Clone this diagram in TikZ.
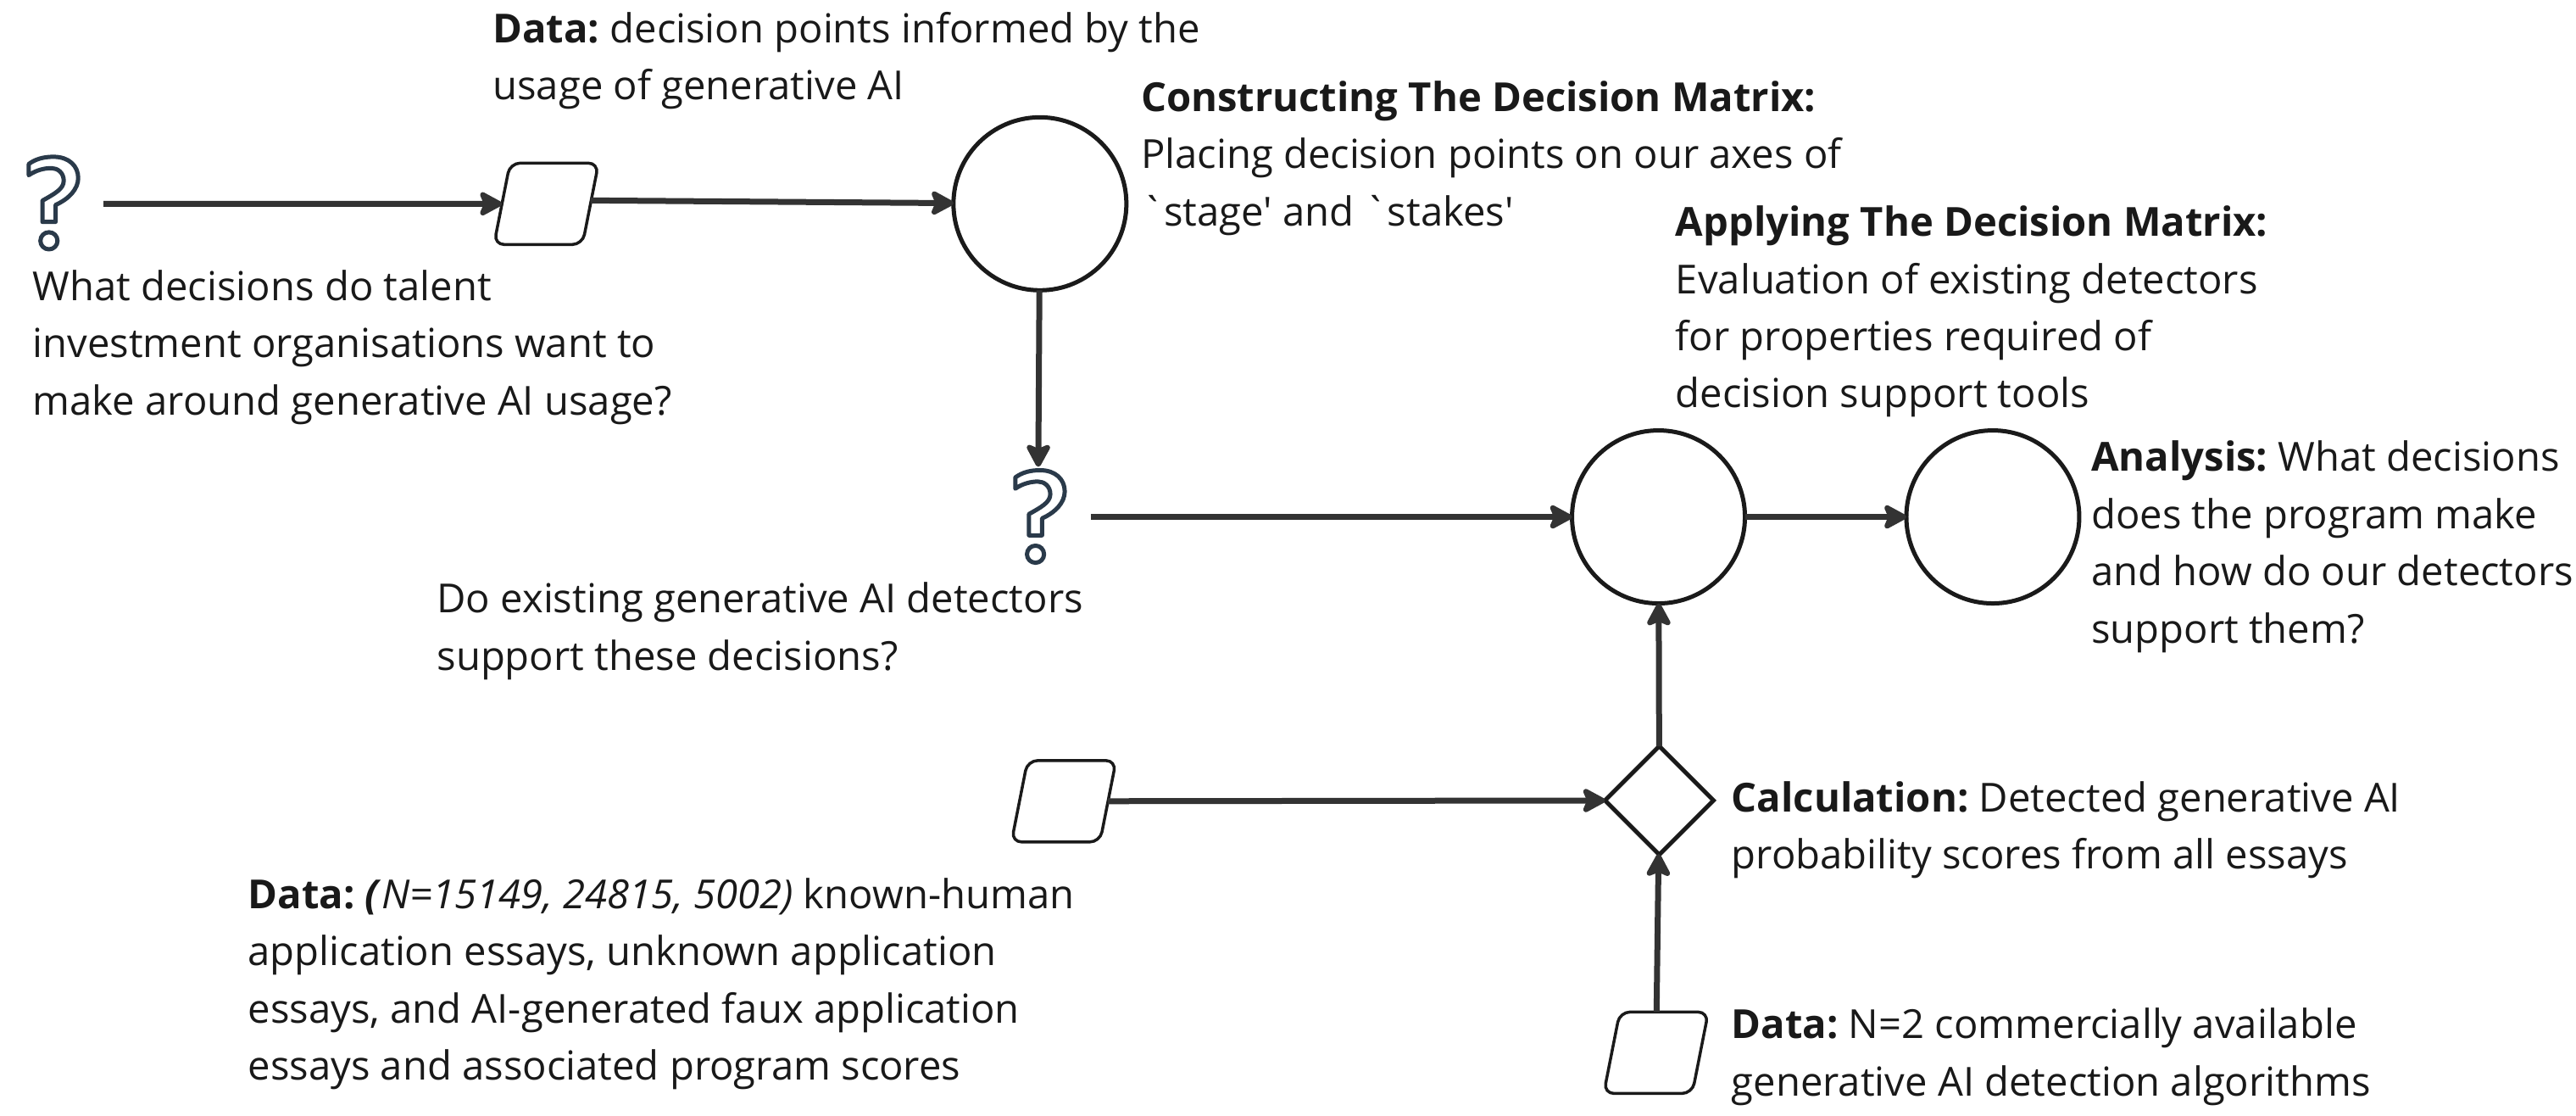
\documentclass[tikz,border=0pt]{standalone}
\usepackage{fontspec}
\setmainfont{Open Sans}[Ligatures=TeXOff]
\usetikzlibrary{arrows.meta,shapes.geometric}
\definecolor{lnk}{HTML}{333333}
\definecolor{shp}{HTML}{1A1A1A}
\definecolor{qm}{HTML}{2A3A4A}
\tikzset{
  x=1.93814pt,y=-1.93814pt,
  txt/.style={anchor=north west,inner sep=0pt,outer sep=0pt,align=left,text=black!90,
    font=\fontsize{47.2}{67.4}\selectfont\frenchspacing},
  circ/.style={shape=circle,draw=shp,line width=5pt,minimum size=204pt,inner sep=0pt,outer sep=0pt},
  dec/.style={shape=diamond,draw=shp,line width=5pt,minimum width=128pt,minimum height=128pt,inner sep=0pt,outer sep=0pt},
  dat/.style={shape=trapezium,trapezium stretches=true,trapezium left angle=77.5,trapezium right angle=102.5,
    draw=shp,line width=3.5pt,rounded corners=12pt,minimum width=124pt,minimum height=96pt,inner sep=0pt,outer sep=0pt},
  lnkst/.style={draw=lnk,line width=7pt,-{Stealth[length=32pt,width=34pt,inset=7pt,round]}},
  qmk/.style={draw=qm,line width=5pt,line join=round,fill=white},
}
\newcommand{\qmarkat}[1]{%
  \begin{scope}[shift={#1}]
    \draw[qmk] (17.5,106.6) -- (17.5,99.8) .. controls (22,96.5) and (27,95.4) .. (32.6,95.4)
      .. controls (42,95.4) and (47.6,101) .. (47.6,108.3)
      .. controls (47.6,115) and (42,121) .. (33.8,124.7) -- (33.8,135) -- (25.8,135) -- (25.8,122.1)
      .. controls (33,118) and (38.8,115) .. (38.8,110)
      .. controls (38.8,105) and (35,102.3) .. (31.3,102.3)
      .. controls (27,102.3) and (22,103.5) .. (17.5,106.6) -- cycle;
    \draw[qmk] (29.8,146.5) ellipse [x radius=5.2,y radius=5.2];
  \end{scope}}
\newcommand{\bb}[1]{\textbf{#1}}
\newcommand{\fil}{\phantom{\rule{60pt}{60pt}}}
\begin{document}
\begin{tikzpicture}
\useasboundingbox (0,0) rectangle (1568,679);
\fill[white] (0,0) rectangle (1568,679);
% icons
\qmarkat{(0,0)}
\qmarkat{(600.5,190.7)}
\coordinate (q1) at (63,124);
\coordinate (q2) at (664,314.5);
\coordinate (q2t) at (632,284);
% shapes
\node[dat] (p1) at (332.5,124) {\fil};
\node[dat] (p2) at (647.5,487.5) {\fil};
\node[dat] (p3) at (1008,640.5) {\fil};
\node[circ] (c1) at (633,124) {};
\node[circ] (c2) at (1009.5,314.5) {};
\node[circ] (c3) at (1213,314.5) {};
\node[dec] (d1) at (1010,487) {};
% connectors
\draw[lnkst] (q1) -- (p1);
\draw[lnkst] ([yshift=4pt]p1.east) -- (c1);
\draw[lnkst] (c1) -- (q2t);
\draw[lnkst] (q2) -- (c2);
\draw[lnkst] (c2) -- (c3);
\draw[lnkst] (p2) -- (d1);
\draw[lnkst] (d1) -- (c2);
\draw[lnkst] (p3) -- (d1);
% texts
\node[txt] (t1) at (300,1.5) {\strut\bb{Data:} decision points informed by the\\usage of generative AI};
\node[txt] (t2) at (694.5,43.5) {\strut\bb{Constructing The Decision Matrix:}\\Placing decision points on our axes of\\`stage' and `stakes'};
\node[txt] (t3) at (1020,119.5) {\strut\bb{Applying The Decision Matrix:}\\Evaluation of existing detectors\\for properties required of\\decision support tools};
\node[txt] (t4) at (20,158.5) {\strut What decisions do talent\\investment organisations want to\\make around generative AI usage?};
\node[txt] (t5) at (266,348.5) {\strut Do existing generative AI detectors\\support these decisions?};
\node[txt] (t6) at (1273,262.5) {\strut\bb{Analysis:} What decisions\\does the program make\\and how do our detectors\\support them?};
\node[txt] (t7) at (1054,469.5) {\strut\bb{Calculation:} Detected generative AI\\probability scores from all essays};
\node[txt] (t8) at (151,528.5) {\strut\bb{Data: \textit{(}}\textit{N=15149, 24815, 5002)} known-human\\application essays, unknown application\\essays, and AI-generated faux application\\essays and associated program scores};
\node[txt] (t9) at (1054,607.5) {\strut\bb{Data:} N=2 commercially available\\generative AI detection algorithms};
\end{tikzpicture}
\end{document}
